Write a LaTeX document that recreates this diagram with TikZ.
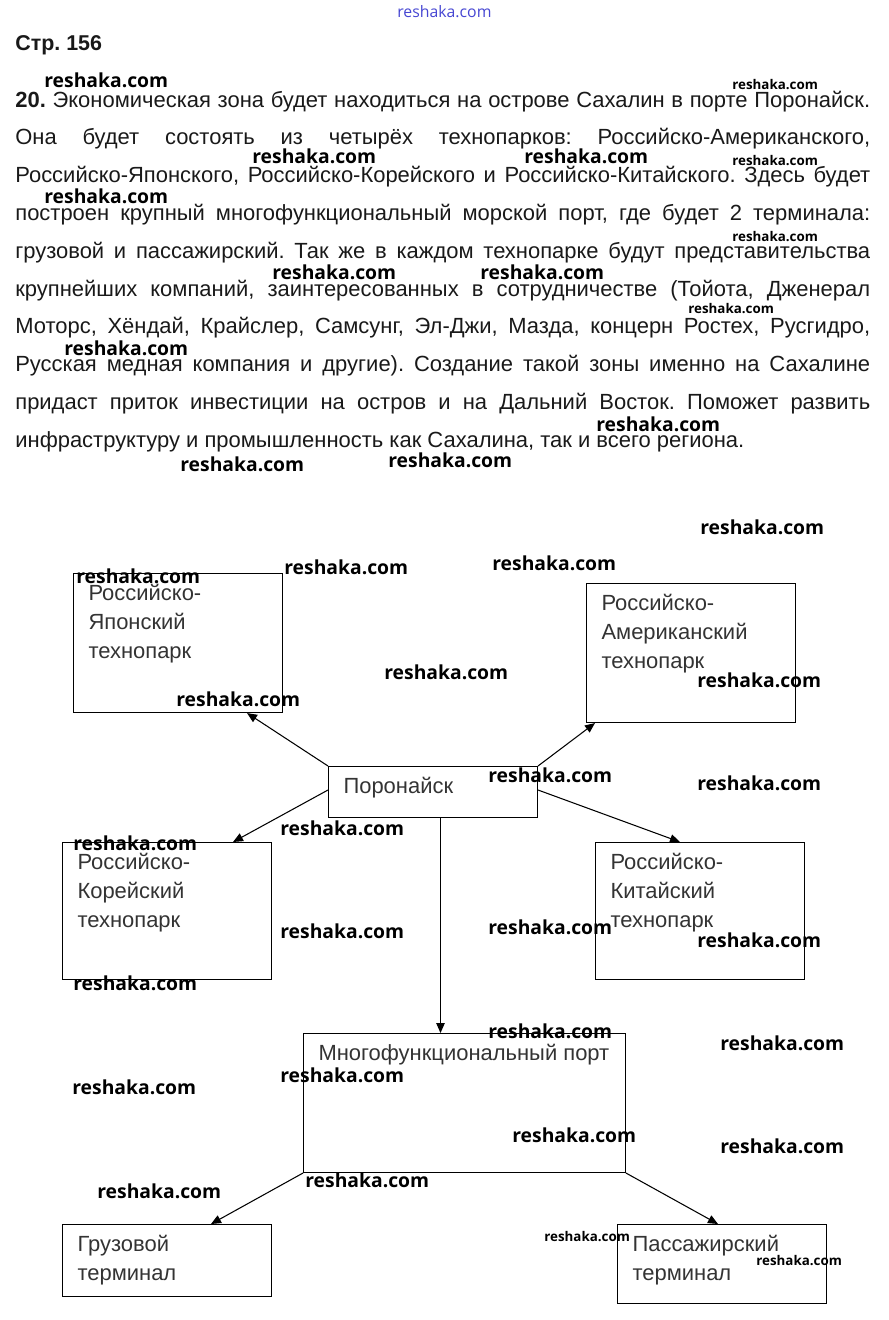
\documentclass[tikz,border=0pt]{standalone}
\usepackage{fontspec}
\setmainfont{Liberation Sans}
\newfontfamily\wmfont{Open Sans}
\usetikzlibrary{arrows.meta}

\definecolor{wmblue}{RGB}{70,70,210}
\newcommand{\boxtxt}[3]{\parbox[c][#2][t]{#1}{#3}}
\frenchspacing

\begin{document}
\begin{tikzpicture}[
    x=0.02cm, y=-0.02cm,
    >={Triangle[length=0.2cm,width=0.17cm]},
    txtline/.style={anchor=base west, inner sep=0, text=black!90,
        font=\fontsize{12.5}{14}\selectfont},
    tbox/.style={draw, line width=0.6pt, anchor=north west,
        inner xsep=0.3cm, inner ysep=0.22cm, text=black!80,
        font=\fontsize{12.5}{16.5}\selectfont},
    link/.style={->, line width=0.6pt},
    wmark/.style={anchor=base west, inner sep=0,
        font=\wmfont\bfseries\fontsize{11}{13}\selectfont},
    wsmall/.style={wmark, font=\wmfont\bfseries\fontsize{7.6}{9}\selectfont},
]
\useasboundingbox (0,0) rectangle (889,1320);

% Heading and task text
\node[txtline, font=\bfseries\fontsize{12.2}{14}\selectfont] (page) at (15,50) {Стр. 156};
\foreach \t [count=\i] in {
    {\textbf{20.} Экономическая зона будет находиться на острове Сахалин в порте Поронайск.},
    {Она будет состоять из четырёх технопарков: Российско-Американского,},
    {Российско-Японского, Российско-Корейского и Российско-Китайского. Здесь будет},
    {построен крупный многофункциональный морской порт, где будет 2 терминала:},
    {грузовой и пассажирский. Так же в каждом технопарке будут представительства},
    {крупнейших компаний, заинтересованных в сотрудничестве (Тойота, Дженерал},
    {Моторс, Хёндай, Крайслер, Самсунг, Эл-Джи, Мазда, концерн Ростех, Русгидро,},
    {Русская медная компания и другие). Создание такой зоны именно на Сахалине},
    {придаст приток инвестиции на остров и на Дальний Восток. Поможет развить}} {
    \node[txtline] (ln\i) at (15,{107+(\i-1)*37.8}) {\makebox[17.1cm][s]{\t}};
}
\node[txtline] (ln10) at (15,447.2)
    {инфраструктуру и промышленность как Сахалина, так и всего региона.};

% Boxes
\node[tbox] (jp) at (73,573) {\boxtxt{3.58cm}{2.34cm}{Российско-\\Японский\\технопарк}};
\node[tbox] (us) at (586,583) {\boxtxt{3.58cm}{2.34cm}{Российско-\\Американский\\технопарк}};
\node[tbox] (por) at (328,766) {\boxtxt{3.58cm}{0.58cm}{Поронайск}};
\node[tbox] (kr) at (62,842) {\boxtxt{3.58cm}{2.30cm}{Российско-\\Корейский\\технопарк}};
\node[tbox] (cn) at (595,842) {\boxtxt{3.58cm}{2.30cm}{Российско-\\Китайский\\технопарк}};
\node[tbox] (port) at (303,1033) {\boxtxt{5.84cm}{2.34cm}{\mbox{Многофункциональный порт}}};
\node[tbox] (cargo) at (62,1224) {\boxtxt{3.58cm}{1.00cm}{Грузовой\\терминал}};
\node[tbox] (pass) at (617,1224) {\boxtxt{3.58cm}{1.14cm}{Пассажирский\\терминал}};

% Arrows
\draw[link] (por.north west) -- ([xshift=-0.72cm]jp.south east);
\draw[link] (por.north east) -- ([xshift=0.18cm]us.south west);
\draw[link] ([yshift=-0.48cm]por.north west) -- ([xshift=-0.78cm]kr.north east);
\draw[link] ([yshift=-0.48cm]por.north east) -- ([xshift=1.7cm]cn.north west);
\draw[link] ([xshift=0.15cm]por.south) -- ([xshift=0.15cm]por.south |- port.north);
\draw[link] (port.south west) -- ([xshift=-1.22cm]cargo.north east);
\draw[link] (port.south east) -- ([xshift=2.02cm]pass.north west);

% Watermarks
\node[wmark, font=\wmfont\fontsize{9}{10}\selectfont, text=wmblue] (wmtop) at (397,17) {reshaka.com};
\foreach \x/\y [count=\i] in {44/87, 252/163, 524/163, 44/203, 272/279, 480/279,
    64/355, 596/431, 180/471, 388/467, 700/534, 284/574, 492/570, 76/583,
    384/679, 176/706, 697/687, 488/782, 697/790, 280/835, 73/850, 280/938,
    488/934, 697/947, 73/990, 488/1038, 720/1050, 72/1094, 280/1082,
    512/1142, 720/1153, 97/1198, 305/1187} {
    \node[wmark] (wm\i) at (\x,\y) {reshaka.com};
}
\foreach \x/\y [count=\i] in {732/89, 732/165, 732/241, 688/313, 544/1241, 756/1265} {
    \node[wsmall] (ws\i) at (\x,\y) {reshaka.com};
}
\end{tikzpicture}
\end{document}
